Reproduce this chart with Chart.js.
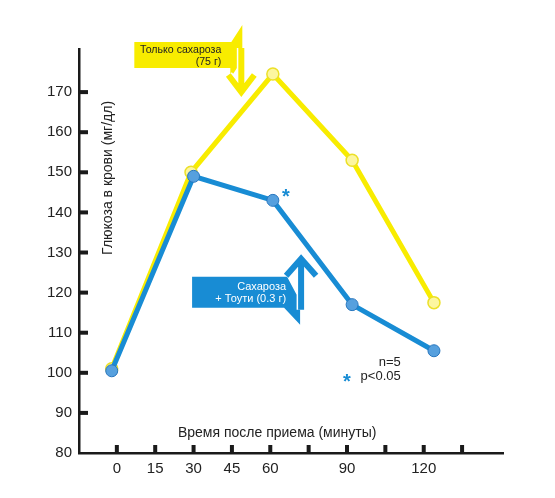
<!DOCTYPE html>
<html>
<head>
<meta charset="utf-8">
<script src="https://cdn.jsdelivr.net/npm/chart.js@4"></script>
<style>
  html, body { margin: 0; padding: 0; background: #fff; }
  #wrap { width: 555px; height: 498px; }
</style>
</head>
<body>
<div id="wrap"><canvas id="GlucoseChart"></canvas></div>
<script>
// Data //
var timeOnly = [-2, 29, 61, 92, 124];
var sucroseOnly = [101, 150, 174.5, 153, 117.5];
var timeTouchi = [-2, 30, 61, 92, 124];
var sucroseTouchi = [100.5, 149, 143, 117, 105.5];

var xTickLabels = [0, 15, 30, 45, 60, 90, 120];
var xTickMarks = [0, 15, 30, 45, 60, 75, 90, 105, 120, 135];
var yTickLabels = [80, 90, 100, 110, 120, 130, 140, 150, 160, 170];
var yTickMarks = [90, 100, 110, 120, 130, 140, 150, 160, 170];

var FONT = "Arial, 'Liberation Sans', sans-serif";
var YELLOW = 'rgb(248,236,0)';
var BLUE = 'rgb(24,140,212)';

function pairs(xs, ys) {
    return xs.map(function(x, i){ return {x: x, y: ys[i]}; });
}

// tick marks + annotations //
var decor = {
    id: 'decor',
    beforeDatasetsDraw: function(chart) {
        var ctx = chart.ctx, xs = chart.scales.x, ys = chart.scales.y;
        var a = chart.chartArea;
        ctx.save();
        ctx.fillStyle = '#1a1a1a';
        yTickMarks.forEach(function(v){
            var py = ys.getPixelForValue(v);
            ctx.fillRect(a.left, py - 2, 9, 4);
        });
        xTickMarks.forEach(function(v){
            var px = xs.getPixelForValue(v);
            ctx.fillRect(px - 2, a.bottom - 8, 4, 8);
        });
        ctx.restore();
    },
    afterDraw: function(chart) {
        var ctx = chart.ctx, xs = chart.scales.x, ys = chart.scales.y;
        function P(x, y){ return [xs.getPixelForValue(x), ys.getPixelForValue(y)]; }
        function poly(o, pts, fill) {
            ctx.beginPath();
            pts.forEach(function(p, i){
                if (i == 0) ctx.moveTo(o[0] + p[0], o[1] + p[1]);
                else ctx.lineTo(o[0] + p[0], o[1] + p[1]);
            });
            ctx.closePath();
            ctx.fillStyle = fill;
            ctx.fill();
        }
        function arrow(o, pts, col) {
            [['#fff', 9], [col, 6]].forEach(function(s){
                ctx.beginPath();
                pts.forEach(function(seg){
                    ctx.moveTo(o[0] + seg[0][0], o[1] + seg[0][1]);
                    for (var k = 1; k < seg.length; k++) ctx.lineTo(o[0] + seg[k][0], o[1] + seg[k][1]);
                });
                ctx.strokeStyle = s[0];
                ctx.lineWidth = s[1];
                ctx.lineJoin = 'miter';
                ctx.lineCap = 'butt';
                ctx.stroke();
            });
        }
        ctx.save();

        // yellow callout
        var A = P(43.2, 176);
        poly(A, [[-93,-26],[4,-26],[15,-43],[15,-8],[3,10],[3,0],[-93,0]], YELLOW);
        arrow(A, [[[14,-20],[14,23]], [[1,7],[14,24],[27,7]]], YELLOW);
        ctx.fillStyle = '#222';
        ctx.font = '10.6px ' + FONT;
        ctx.textAlign = 'right';
        ctx.textBaseline = 'middle';
        ctx.fillText('Только сахароза', A[0] - 6, A[1] - 18);
        ctx.fillText('(75 г)', A[0] - 6, A[1] - 6);

        // blue callout
        var B = P(65.4, 116.2);
        poly(B, [[-92,-31],[3,-31],[12,-14],[16,-10],[16,17],[0,0],[-92,0]], BLUE);
        arrow(B, [[[17,-48],[17,2]], [[2,-32],[17,-49],[32,-32]]], BLUE);
        ctx.fillStyle = '#fff';
        ctx.font = '11px ' + FONT;
        ctx.fillText('Сахароза', B[0] + 2, B[1] - 21);
        ctx.fillText('+ Тоути (0.3 г)', B[0] + 2, B[1] - 9);

        // significance star at 60 min
        var s = P(timeTouchi[2], sucroseTouchi[2]);
        ctx.fillStyle = BLUE;
        ctx.font = 'bold 20px ' + FONT;
        ctx.textAlign = 'center';
        ctx.fillText('*', s[0] + 13, s[1] - 3);

        // n / p text
        ctx.fillStyle = '#222';
        ctx.font = '13px ' + FONT;
        ctx.textAlign = 'right';
        var n = P(111, 102.7);
        ctx.fillText('n=5', n[0], n[1]);
        var p = P(111, 99);
        ctx.fillText('p<0.05', p[0], p[1]);
        ctx.fillStyle = BLUE;
        ctx.font = 'bold 20px ' + FONT;
        ctx.textAlign = 'center';
        var st = P(90, 98.6);
        ctx.fillText('*', st[0], st[1] + 4);

        // axis titles
        ctx.fillStyle = '#222';
        ctx.font = '14px ' + FONT;
        var xt = P(62.7, 85);
        ctx.fillText('Время после приема (минуты)', xt[0], xt[1]);
        var yt = P(-3.6, 148.6);
        ctx.translate(yt[0], yt[1]);
        ctx.rotate(-Math.PI / 2);
        ctx.font = '14px ' + FONT;
        ctx.fillText('Глюкоза в крови (мг/дл)', 0, 0);
        ctx.restore();
    }
};

var ctx = document.getElementById('GlucoseChart').getContext('2d');
var chart = new Chart(ctx, {
    type: 'line',
    data: {
        datasets: [{
            label: 'Сахароза + Тоути (0.3 г)',
            data: pairs(timeTouchi, sucroseTouchi),
            borderColor: BLUE,
            borderWidth: 5,
            pointRadius: 6,
            pointBackgroundColor: 'rgb(86,160,222)',
            pointBorderColor: 'rgb(40,118,190)',
            pointBorderWidth: 1,
            tension: 0
        }, {
            label: 'Только сахароза (75 г)',
            data: pairs(timeOnly, sucroseOnly),
            borderColor: YELLOW,
            borderWidth: 5,
            pointRadius: 6,
            pointBackgroundColor: 'rgb(252,246,160)',
            pointBorderColor: 'rgb(236,224,40)',
            pointBorderWidth: 1.5,
            tension: 0
        }]
    },
    options: {
        responsive: true,
        maintainAspectRatio: false,
        animation: false,
        layout: { padding: { top: 49, right: 52, left: 0, bottom: 0 } },
        plugins: { legend: { display: false }, tooltip: { enabled: false } },
        scales: {
            x: {
                type: 'linear',
                min: -14.8,
                max: 151,
                grid: { display: false, drawTicks: false },
                border: { display: true, color: '#1a1a1a', width: 2.5 },
                afterBuildTicks: function(s){ s.ticks = xTickLabels.map(function(v){ return {value: v}; }); },
                afterFit: function(s){ s.height = 45; },
                ticks: { color: '#222', font: { family: FONT, size: 15 }, padding: 7, maxRotation: 0, autoSkip: false }
            },
            y: {
                min: 80,
                max: 180.75,
                grid: { display: false, drawTicks: false },
                border: { display: true, color: '#1a1a1a', width: 2.5 },
                afterBuildTicks: function(s){ s.ticks = yTickLabels.map(function(v){ return {value: v}; }); },
                afterFit: function(s){ s.width = 79; },
                ticks: { color: '#222', font: { family: FONT, size: 15 }, padding: 7 }
            }
        }
    },
    plugins: [decor]
});
</script>
</body>
</html>
